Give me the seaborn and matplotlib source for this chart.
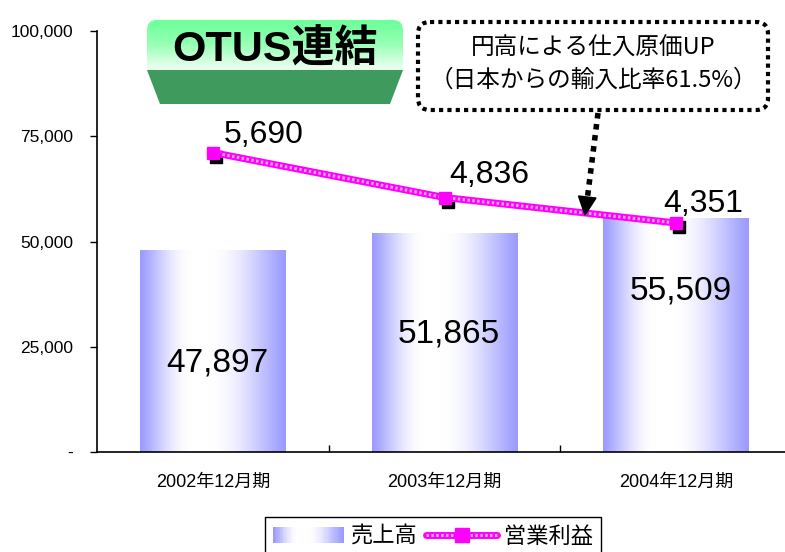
import numpy as np
import pandas as pd
import matplotlib
matplotlib.use('Agg')
import matplotlib.pyplot as plt
import matplotlib.transforms as mtransforms
from matplotlib.patches import FancyBboxPatch, Polygon, Rectangle
from matplotlib.legend_handler import HandlerBase, HandlerTuple
from matplotlib.lines import Line2D
import seaborn as sns

# --- data ---
periods = ['2002年12月期', '2003年12月期', '2004年12月期']
sales = [47897, 51865, 55509]          # 売上高 (left axis)
op_profit = [5690, 4836, 4351]         # 営業利益 (hidden right axis)
sales_ticks = [0, 25000, 50000, 75000, 100000]
sales_tick_labels = ['-', '25,000', '50,000', '75,000', '100,000']
legend_labels = ['売上高', '営業利益']
title_text = 'OTUS連結'
note_lines = ['円高による仕入原価UP', '（日本からの輸入比率61.5%）']

# label placement (style only)
bar_label_frac = [0.44, 0.54, 0.69]
profit_label_offsets = [(51, 18), (45, 23), (27, 19)]

LATIN = ['Liberation Sans', 'Noto Sans CJK JP', 'DejaVu Sans']
CJK = ['Noto Sans CJK JP', 'DejaVu Sans']

sns.set_style('white')
plt.rcParams['font.family'] = LATIN
plt.rcParams['text.color'] = 'black'
plt.rcParams['xtick.color'] = 'black'
plt.rcParams['ytick.color'] = 'black'
plt.rcParams['axes.labelcolor'] = 'black'

BAR_EDGE = np.array([155, 155, 255]) / 255
MAGENTA = '#ff00ff'


def bar_gradient(n=256):
    t = np.linspace(0, 1, n)
    w = np.interp(t, [0, 0.36, 0.47, 1.0], [0, 1, 1, 0])
    w = np.sin(w * np.pi / 2) ** 1.2
    return BAR_EDGE[None, :] * (1 - w[:, None]) + w[:, None]


class GradientHandler(HandlerBase):
    def create_artists(self, legend, orig_handle, xdescent, ydescent,
                       width, height, fontsize, trans):
        cols = bar_gradient(40)
        n = len(cols)
        arts = []
        for k in range(n):
            arts.append(Rectangle((-xdescent + width * k / n, -ydescent - 1),
                                  width / n * 1.1, height + 2,
                                  facecolor=cols[k], edgecolor='none',
                                  transform=trans))
        return arts


df = pd.DataFrame({'period': periods, 'sales': sales, 'profit': op_profit})

fig = plt.figure(figsize=(7.85, 5.52), dpi=100)
ax = fig.add_axes([97 / 785, 100 / 552, 695 / 785, 421 / 552])

sns.barplot(data=df, x='period', y='sales', ax=ax, width=0.63,
            color='#9b9bff', saturation=1)

# replace flat fill with the horizontal blue-white-blue gradient
grad = bar_gradient()[None, :, :]
for p in ax.patches:
    x0, y0 = p.get_x(), p.get_y()
    ax.imshow(grad, extent=(x0, x0 + p.get_width(), y0, y0 + p.get_height()),
              aspect='auto', origin='lower', zorder=2)
    p.set_facecolor('none')
    p.set_edgecolor('none')

ax.set_xlim(-0.5, 2.5)
ax.set_ylim(0, 100000)
ax.set_yticks(sales_ticks)
ax.set_yticklabels(sales_tick_labels)
ax.set_xlabel('')
ax.set_ylabel('')
for s in ['top', 'right']:
    ax.spines[s].set_visible(False)
for s in ['left', 'bottom']:
    ax.spines[s].set_color('black')
    ax.spines[s].set_linewidth(1.2)
ax.tick_params(axis='y', direction='out', length=5, width=1, color='black',
               labelsize=12.5, pad=12, left=True, labelcolor='black')
ax.tick_params(axis='x', which='major', length=0, labelsize=13, pad=16,
               labelcolor='black')
ax.set_xticks([0.5, 1.5], minor=True)
ax.tick_params(axis='x', which='minor', direction='in', length=5, width=1,
               color='black', bottom=True)

for i, v in enumerate(sales):
    ax.text(i + 0.02, v * bar_label_frac[i], f'{v:,}', ha='center', va='center',
            fontsize=24, color='black', zorder=4)

# operating profit on a hidden secondary scale
ax2 = ax.twinx()
xs = np.arange(len(periods))
shadow = mtransforms.offset_copy(ax2.transData, fig=fig, x=3, y=-4, units='dots')
ax2.plot(xs, op_profit, 's', color='black', ms=8, transform=shadow, zorder=1)
sns.lineplot(x=xs, y=op_profit, ax=ax2, color=MAGENTA, lw=5, zorder=2)
ax2.plot(xs, op_profit, color='#ffa8ff', lw=2.2, dashes=(0.8, 0.8), zorder=3)
ax2.plot(xs, op_profit, 's', color=MAGENTA, ms=9, zorder=4)
ax2.set_ylim(0, 8000)
ax2.set_xlim(-0.5, 2.5)
ax2.set_axis_off()

for i, v in enumerate(op_profit):
    dx, dy = profit_label_offsets[i]
    ax2.annotate(f'{v:,}', xy=(i, v), xytext=(dx, dy), textcoords='offset pixels',
                 ha='center', va='center', fontsize=23, color='black', zorder=5)

# legend
h_sales = Rectangle((0, 0), 1, 1)
h_profit = (Line2D([], [], color=MAGENTA, lw=5),
            Line2D([], [], color='#ffa8ff', lw=2.2, dashes=(0.8, 0.8)),
            Line2D([], [], color=MAGENTA, marker='s', ms=10, lw=0))
leg = fig.legend([h_sales, h_profit], legend_labels, ncol=2,
                 loc='upper left', bbox_to_anchor=(265 / 785, 1 - 517 / 552),
                 borderaxespad=0,
                 handler_map={Rectangle: GradientHandler(), tuple: HandlerTuple(ndivide=1)},
                 prop={'family': CJK, 'size': 16}, frameon=True, fancybox=False,
                 edgecolor='black', framealpha=1, handlelength=3.2, handleheight=0.6,
                 handletextpad=0.3, columnspacing=0.4, borderpad=0.35, numpoints=1)
leg.get_frame().set_linewidth(1)
for t in leg.get_texts():
    t.set_color('black')

# overlay in pixel coordinates for the callouts
ov = fig.add_axes([0, 0, 1, 1], zorder=5)
ov.set_axis_off()

# title badge
ov.add_patch(Polygon([(147, 70), (403, 70), (390, 104), (160, 104)],
                     closed=True, facecolor='#3f9b5d', edgecolor='none'))
badge = FancyBboxPatch((147, 20), 256, 60, boxstyle='round,pad=0,rounding_size=10',
                       facecolor='none', edgecolor='none')
ov.add_patch(badge)
stops = np.array([[108, 255, 152], [150, 255, 180], [225, 255, 232], [255, 255, 255]]) / 255
tt = np.linspace(0, 1, 100)
vgrad = np.stack([np.interp(tt, [0, 0.4, 0.75, 1], stops[:, c]) for c in range(3)], axis=1)
im = ov.imshow(vgrad[:, None, :], extent=(147, 403, 80, 20), aspect='auto', origin='upper')
im.set_clip_path(badge)
ov.text(275, 50, title_text, ha='center', va='center', fontsize=31,
        fontweight='bold', family=LATIN, color='black')

# dotted note box with arrow
ov.add_patch(FancyBboxPatch((418, 22), 350, 88, boxstyle='round,pad=0,rounding_size=12',
                            facecolor='white', edgecolor='black', lw=3,
                            linestyle=(0, (1, 1))))
ov.text(593, 48, note_lines[0], ha='center', va='center', fontsize=17, family=CJK,
        color='black')
ov.text(593, 80, note_lines[1], ha='center', va='center', fontsize=17, family=CJK,
        color='black')
ov.plot([598, 587.5], [113, 197], color='black', lw=4, linestyle=(0, (1, 1)),
        solid_capstyle='butt')
ov.add_patch(Polygon([(596, 198), (578.5, 196), (585, 215)], closed=True,
                     facecolor='black', edgecolor='black'))

ov.set_xlim(0, 785)
ov.set_ylim(552, 0)

fig.savefig('out.png', dpi=100)
